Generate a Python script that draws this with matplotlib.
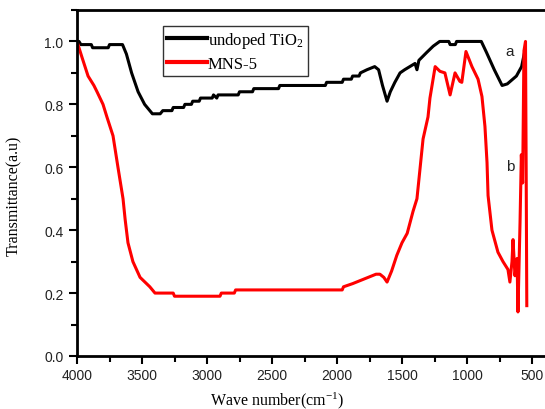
import matplotlib
matplotlib.use('Agg')
import matplotlib.pyplot as plt
from matplotlib.ticker import MultipleLocator

# FTIR transmittance spectra, undoped TiO2 (a) and MNS-5 (b)
wn_tio2 = [4000, 3985, 3970, 3890, 3880, 3760, 3750, 3650, 3620, 3580, 3530,
           3480, 3420, 3360, 3340, 3270, 3260, 3180, 3170, 3120, 3110, 3060,
           3050, 2960, 2950, 2925, 2915, 2760, 2750, 2650, 2640, 2450, 2440,
           2090, 2080, 1960, 1950, 1890, 1880, 1830, 1820, 1770, 1710, 1680,
           1650, 1615, 1590, 1555, 1515, 1480, 1440, 1400, 1385, 1370, 1310,
           1260, 1210, 1140, 1130, 1090, 1080, 890, 850, 790, 730, 690, 620,
           580, 560]
t_tio2 = [1.00, 1.00, 0.99, 0.99, 0.98, 0.98, 0.99, 0.99, 0.96, 0.90, 0.84,
          0.80, 0.77, 0.77, 0.78, 0.78, 0.79, 0.79, 0.80, 0.80, 0.81, 0.81,
          0.82, 0.82, 0.83, 0.82, 0.83, 0.83, 0.84, 0.84, 0.85, 0.85, 0.86,
          0.86, 0.87, 0.87, 0.88, 0.88, 0.89, 0.89, 0.90, 0.91, 0.92, 0.91,
          0.86, 0.81, 0.84, 0.87, 0.90, 0.91, 0.92, 0.93, 0.91, 0.94, 0.965,
          0.985, 1.00, 1.00, 0.99, 0.99, 1.00, 1.00, 0.965, 0.91, 0.86, 0.865,
          0.89, 0.92, 0.96]

wn_mns = [4000, 3962, 3915, 3870, 3846, 3800, 3770, 3723, 3685, 3646, 3630,
          3608, 3570, 3515, 3440, 3400, 3260, 3250, 2900, 2890, 2790, 2780,
          1960, 1950, 1880, 1820, 1760, 1700, 1670, 1640, 1615, 1580, 1540,
          1500, 1460, 1415, 1385, 1338, 1300, 1285, 1245, 1208, 1170, 1130,
          1092, 1055, 1040, 1008, 962, 915, 885, 862, 846, 838, 808, 762,
          723, 685, 670, 654, 646, 631, 615, 608, 592, 582, 572, 562, 550,
          545, 540]
t_mns = [1.00, 0.95, 0.89, 0.86, 0.84, 0.80, 0.76, 0.70, 0.60, 0.50, 0.435,
         0.36, 0.30, 0.25, 0.22, 0.20, 0.20, 0.19, 0.19, 0.20, 0.20, 0.21,
         0.21, 0.22, 0.23, 0.24, 0.25, 0.26, 0.26, 0.25, 0.235, 0.27, 0.32,
         0.36, 0.39, 0.46, 0.50, 0.69, 0.76, 0.82, 0.92, 0.905, 0.90, 0.83,
         0.90, 0.873, 0.87, 0.968, 0.92, 0.88, 0.825, 0.73, 0.615, 0.51, 0.40,
         0.33, 0.30, 0.275, 0.235, 0.30, 0.37, 0.255, 0.31, 0.14, 0.425, 0.64,
         0.55, 0.97, 1.00, 0.60, 0.16]

plt.rcParams['mathtext.fontset'] = 'custom'
plt.rcParams['mathtext.rm'] = 'Liberation Serif'
plt.rcParams['mathtext.it'] = 'Liberation Serif:italic'

fig = plt.figure(figsize=(5.45, 4.10), dpi=100)
ax = fig.add_axes([0.1413, 0.1293, 0.8587, 0.8439])

ax.plot(wn_tio2, t_tio2, color='black', lw=2.2, label='undoped TiO$_2$')
ax.plot(wn_mns, t_mns, color='red', lw=2.2, label='MNS-5')

ax.set_xlim(4000, 400)
ax.set_ylim(0, 1.1)
ax.xaxis.set_major_locator(MultipleLocator(500))
ax.xaxis.set_minor_locator(MultipleLocator(250))
ax.yaxis.set_major_locator(MultipleLocator(0.2))
ax.yaxis.set_minor_locator(MultipleLocator(0.1))
ax.tick_params(which='both', direction='out', width=1.5, top=False, right=False,
               labelsize=10, labelfontfamily='Liberation Sans', labelcolor='#222222')
ax.tick_params(which='major', length=5.8)
ax.tick_params(which='minor', length=4.5)
ax.tick_params(axis='x', pad=2.5)
ax.tick_params(axis='y', pad=4)
ax.yaxis.set_major_formatter(plt.FuncFormatter(lambda v, p: '%.1f' % v))

for side in ['left', 'bottom', 'top']:
    ax.spines[side].set_linewidth(2.0)
ax.spines['right'].set_visible(False)

ax.set_xlabel('Wave number(cm$^{-1}$)', family='Liberation Serif', fontsize=11.5)
ax.xaxis.set_label_coords(0.427, -0.098)
ax.set_ylabel('Transmittance(a.u)', family='Liberation Serif', fontsize=11.5)
ax.yaxis.set_label_coords(-0.117, 0.465)

ax.text(669, 0.971, 'a', family='Liberation Sans', fontsize=11, ha='center', va='center', color='#222222')
ax.text(669, 0.603, 'b', family='Liberation Sans', fontsize=11, ha='center', va='center', color='#222222')

leg = ax.legend(loc='upper left', bbox_to_anchor=(163 / 545, 1 - 27 / 410),
                bbox_transform=fig.transFigure, prop={'family': 'Liberation Serif', 'size': 12},
                fancybox=False, framealpha=1, edgecolor='#333333', borderpad=0.25,
                handlelength=2.4, handletextpad=0.05, labelspacing=0.35, borderaxespad=0)
leg.get_frame().set_linewidth(1.0)
for line in leg.get_lines():
    line.set_linewidth(3)

fig.savefig('out.png', dpi=100)
